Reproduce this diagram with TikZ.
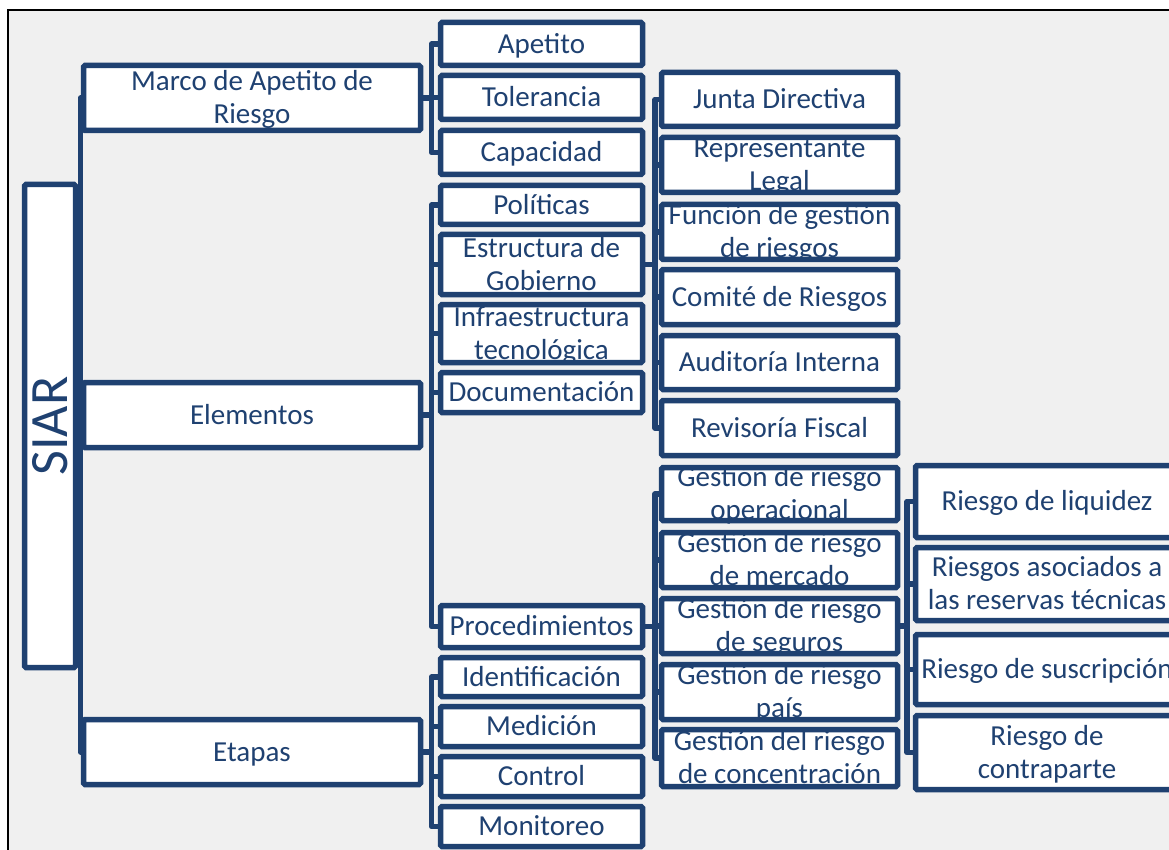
\documentclass[tikz,border=0pt]{standalone}
\usepackage{fontspec}
\setmainfont{Carlito}
\definecolor{sablue}{RGB}{31,65,113}
\definecolor{sabg}{RGB}{240,240,240}
\tikzset{
  box/.style={draw=sablue, line width=5.5pt, fill=white, rounded corners=1.5pt, inner sep=0pt, outer sep=0pt},
  txt/.style={text=sablue, align=center, inner sep=0pt, font=\fontsize{29}{33}\selectfont},
  conn/.style={draw=sablue, line width=5.5pt, line join=round}
}
\newcommand\bx[6]{%
  \node[box, minimum width=#4pt, minimum height=#5pt] (#1) at (#2,#3) {};
  \node[txt] (#1-t) at ([yshift=-2.5pt]#1.center) {\strut #6\strut};}
\begin{document}
\begin{tikzpicture}[x=1pt,y=-1pt]
\useasboundingbox (0,0) rectangle (1169,850);
\clip (0,0) rectangle (1169,850);
\fill[white] (0,0) rectangle (1169,850);
\draw[black, line width=2pt, fill=sabg] (8,10) rectangle (1190,870);

% root
\node[box, minimum width=51pt, minimum height=483pt] (siar) at (50,426) {};
\node[text=sablue, rotate=90, inner sep=0pt, font=\fontsize{54}{60}\selectfont] (siar-t) at (siar.center) {SIAR};

% level 1
\bx{marco}{252}{98}{337}{65}{Marco de Apetito de\\Riesgo}
\bx{elem}{252}{415}{337}{65}{Elementos}
\bx{etapas}{252}{752}{337}{65}{Etapas}

% level 2
\bx{apetito}{541.5}{44}{202}{43}{Apetito}
\bx{toler}{541.5}{97.5}{202}{44}{Tolerancia}
\bx{capac}{541.5}{152.5}{202}{44}{Capacidad}
\bx{polit}{541.5}{205}{202}{39}{Políticas}
\bx{estruc}{541.5}{264.5}{202}{60}{Estructura de\\Gobierno}
\bx{infra}{541.5}{333.5}{202}{58}{Infraestructura\\tecnológica}
\bx{docum}{541.5}{392.5}{202}{40}{Documentación}
\bx{proced}{541.5}{626.5}{202}{42}{Procedimientos}
\bx{ident}{541.5}{677}{202}{39}{Identificación}
\bx{medic}{541.5}{726.5}{202}{40}{Medición}
\bx{control}{541.5}{776.5}{202}{40}{Control}
\bx{monit}{541.5}{826.5}{202}{40}{Monitoreo}

% level 3
\bx{junta}{779.5}{99.5}{236}{54}{Junta Directiva}
\bx{repre}{779.5}{165}{236}{55}{Representante\\Legal}
\bx{funcion}{779.5}{232}{236}{55}{Función de gestión\\de riesgos}
\bx{comite}{779.5}{297}{236}{55}{Comité de Riesgos}
\bx{audit}{779.5}{362.5}{236}{54}{Auditoría Interna}
\bx{revis}{779.5}{428}{236}{55}{Revisoría Fiscal}
\bx{gop}{779.5}{494}{236}{53}{Gestión de riesgo\\operacional}
\bx{gmer}{779.5}{560}{236}{55}{Gestión de riesgo\\de mercado}
\bx{gseg}{779.5}{626}{236}{55}{Gestión de riesgo\\de seguros}
\bx{gpais}{779.5}{692}{236}{55}{Gestión de riesgo\\país}
\bx{gcon}{779.5}{758}{236}{57}{Gestión del riesgo\\de concentración}

% level 4
\bx{liq}{1047}{501.5}{263}{72}{Riesgo de liquidez}
\bx{resv}{1047}{584}{263}{73}{Riesgos asociados a\\las reservas técnicas}
\bx{susc}{1047}{669.5}{263}{70}{Riesgo de suscripción}
\bx{contra}{1047}{752.5}{263}{74}{Riesgo de\\contraparte}

% connectors
\foreach \c in {marco,elem,etapas}
  \draw[conn] (siar.east) -- ++(5,0) |- (\c.west);
\foreach \c in {apetito,toler,capac}
  \draw[conn] (marco.east) -- ++(11,0) |- (\c.west);
\foreach \c in {polit,estruc,infra,docum,proced}
  \draw[conn] (elem.east) -- ++(11,0) |- (\c.west);
\foreach \c in {ident,medic,control,monit}
  \draw[conn] (etapas.east) -- ++(11,0) |- (\c.west);
\foreach \c in {junta,repre,funcion,comite,audit,revis}
  \draw[conn] (estruc.east) -- ++(12.5,0) |- (\c.west);
\foreach \c in {gop,gmer,gseg,gpais,gcon}
  \draw[conn] (proced.east) -- ++(12.5,0) |- (\c.west);
\foreach \c in {liq,resv,susc,contra}
  \draw[conn] (gseg.east) -- ++(9.5,0) |- (\c.west);
\end{tikzpicture}
\end{document}
